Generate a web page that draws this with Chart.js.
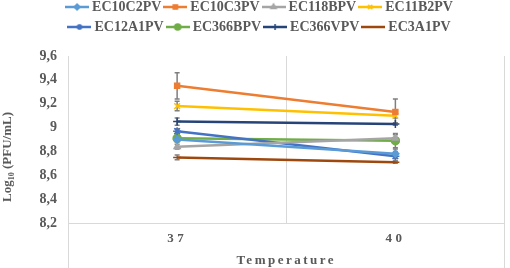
<!DOCTYPE html>
<html><head><meta charset="utf-8">
<script src="https://cdn.jsdelivr.net/npm/chart.js@4.4.1/dist/chart.umd.min.js"></script>
<style>html,body{margin:0;padding:0;background:#fff}#wrap{width:510px;height:268px}</style>
</head><body><div id="wrap"><canvas id="c" width="510" height="268"></canvas></div>
<script>
const categories = ['37', '40'];
const seriesNames = ['EC10C2PV','EC10C3PV','EC118BPV','EC11B2PV','EC12A1PV','EC366BPV','EC366VPV','EC3A1PV'];
const ec10c2pv = [8.90, 8.78];
const ec10c3pv = [9.35, 9.13];
const ec118bpv = [8.84, 8.91];
const ec11b2pv = [9.18, 9.10];
const ec12a1pv = [8.97, 8.76];
const ec366bpv = [8.91, 8.89];
const ec366vpv = [9.05, 9.03];
const ec3a1pv  = [8.75, 8.71];
const errEc10c2pv = [0.02, 0.04];
const errEc10c3pv = [0.11, 0.11];
const errEc118bpv = [0.02, 0.03];
const errEc11b2pv = [0.04, 0.02];
const errEc12a1pv = [0.02, 0.04];
const errEc366bpv = [0.02, 0.06];
const errEc366vpv = [0.03, 0.01];
const errEc3a1pv  = [0.02, 0.01];
const yTicks = [8.2, 8.4, 8.6, 8.8, 9.0, 9.2, 9.4, 9.6];

const values = [ec10c2pv, ec10c3pv, ec118bpv, ec11b2pv, ec12a1pv, ec366bpv, ec366vpv, ec3a1pv];
const errors = [errEc10c2pv, errEc10c3pv, errEc118bpv, errEc11b2pv, errEc12a1pv, errEc366bpv, errEc366vpv, errEc3a1pv];
const colors = ['#5B9BD5','#ED7D31','#A5A5A5','#FFC000','#4472C4','#70AD47','#264478','#9E480E'];
const styles = ['rectRot','rect','triangle','crossRot','star','circle','cross','line'];
const radii  = [3.5, 3.5, 3.5, 4, 4, 4, 4, 4];

const TXT = '#595959';
const GRID = '#D9D9D9';
const SERIF = '"Liberation Serif", "Times New Roman", serif';
const LEGEND_W = 420, LEGEND_CX = 261;

function legendIcon(i) {
  const cv = document.createElement('canvas');
  cv.width = 24; cv.height = 12;
  const g = cv.getContext('2d');
  g.strokeStyle = colors[i]; g.fillStyle = colors[i]; g.lineWidth = 2.5;
  g.beginPath(); g.moveTo(0, 6); g.lineTo(24, 6); g.stroke();
  g.lineWidth = 1.5;
  Chart.helpers.drawPoint(g, {pointStyle: styles[i], radius: 3, borderWidth: 1.5, rotation: 0}, 12, 6);
  return cv;
}

const datasets = seriesNames.map((n, i) => ({
  label: n,
  data: values[i],
  borderColor: colors[i],
  backgroundColor: colors[i],
  pointBackgroundColor: colors[i],
  pointBorderColor: colors[i],
  borderWidth: 2.5,
  pointStyle: styles[i],
  pointRadius: radii[i],
  pointBorderWidth: 1.5,
  tension: 0,
  fill: false
}));

const errorBars = {
  id: 'errorBars',
  beforeDatasetsDraw(chart) {
    const ctx = chart.ctx, ys = chart.scales.y;
    ctx.save();
    ctx.strokeStyle = '#7F7F7F';
    ctx.lineWidth = 1.5;
    chart.data.datasets.forEach((ds, di) => {
      const meta = chart.getDatasetMeta(di);
      meta.data.forEach((pt, pi) => {
        const v = ds.data[pi], e = errors[di][pi];
        const t = ys.getPixelForValue(v + e), b = ys.getPixelForValue(v - e);
        ctx.beginPath();
        ctx.moveTo(pt.x, t); ctx.lineTo(pt.x, b);
        ctx.moveTo(pt.x - 2.5, t); ctx.lineTo(pt.x + 2.5, t);
        ctx.moveTo(pt.x - 2.5, b); ctx.lineTo(pt.x + 2.5, b);
        ctx.stroke();
      });
    });
    ctx.restore();
  }
};

const decor = {
  id: 'decor',
  beforeDraw(chart) {
    const xs = chart.scales.x;
    if (xs && !xs._spaced) {
      const dl = xs.drawLabels, dt = xs.drawTitle;
      xs.drawLabels = function (a) { const c = this.ctx; c.letterSpacing = '3.5px'; dl.call(this, a); c.letterSpacing = '0px'; };
      xs.drawTitle = function (a) { const c = this.ctx; c.letterSpacing = '2.5px'; dt.call(this, a); c.letterSpacing = '0px'; };
      xs._spaced = true;
    }
  },
  afterDraw(chart) {
    const ctx = chart.ctx, a = chart.chartArea, xs = chart.scales.x;
    ctx.save();
    ctx.strokeStyle = GRID; ctx.lineWidth = 1;
    ctx.beginPath();
    ctx.moveTo(Math.round(a.left) + 0.5, a.bottom); ctx.lineTo(Math.round(a.left) + 0.5, xs.bottom);
    ctx.moveTo(Math.round(a.right) - 0.5, a.bottom); ctx.lineTo(Math.round(a.right) - 0.5, xs.bottom);
    ctx.stroke();
    ctx.translate(8, 157);
    ctx.rotate(-Math.PI / 2);
    ctx.fillStyle = TXT;
    ctx.textBaseline = 'middle';
    const big = 'bold 13px ' + SERIF, small = 'bold 8px ' + SERIF;
    const p1 = 'Log', p2 = '10', p3 = ' (PFU/mL)';
    ctx.font = big; const w1 = ctx.measureText(p1).width, w3 = ctx.measureText(p3).width;
    ctx.font = small; const w2 = ctx.measureText(p2).width;
    let x = -(w1 + w2 + w3) / 2;
    ctx.textAlign = 'left';
    ctx.font = big; ctx.fillText(p1, x, 0); x += w1;
    ctx.font = small; ctx.fillText(p2, x, 3.5); x += w2;
    ctx.font = big; ctx.fillText(p3, x, 0);
    ctx.restore();
  }
};

const tweaks = {
  id: 'tweaks',
  beforeLayout(chart) {
    const lg = chart.legend;
    if (lg && !lg._patched) {
      const of = lg.fit;
      lg.fit = function () {
        const mw = this.maxWidth;
        this.maxWidth = LEGEND_W;
        of.call(this);
        this.maxWidth = mw;
        this.height += 12;
      };
      lg._patched = true;
    }
  },
  afterLayout(chart) {
    const lg = chart.legend;
    if (lg) { lg.left = LEGEND_CX - LEGEND_W / 2; lg.right = LEGEND_CX + LEGEND_W / 2; lg.width = LEGEND_W; }
  }
};

new Chart(document.getElementById('c'), {
  type: 'line',
  data: { labels: categories, datasets },
  plugins: [errorBars, decor, tweaks],
  options: {
    responsive: false,
    animation: false,
    events: [],
    layout: { padding: { top: -6, left: 0, right: 1, bottom: 0 } },
    plugins: {
      tooltip: { enabled: false },
      legend: {
        display: true,
        position: 'top',
        labels: {
          usePointStyle: true,
          pointStyleWidth: 16,
          padding: 6,
          color: TXT,
          font: { family: SERIF, size: 14, weight: 'bold' },
          generateLabels(chart) {
            return chart.data.datasets.map((ds, i) => ({
              text: ds.label,
              pointStyle: legendIcon(i),
              fillStyle: colors[i],
              strokeStyle: colors[i],
              lineWidth: 0,
              hidden: false,
              fontColor: TXT,
              datasetIndex: i
            }));
          }
        }
      }
    },
    scales: {
      x: {
        type: 'category',
        offset: true,
        grid: { display: true, offset: true, color: GRID, lineWidth: 1, drawTicks: false },
        border: { display: true, color: GRID },
        ticks: { color: TXT, padding: 8, font: { family: SERIF, size: 13, weight: 'bold' } },
        title: {
          display: true,
          text: 'Temperature',
          color: TXT,
          padding: { top: 0, bottom: 0 },
          font: { family: SERIF, size: 13, weight: 'bold' }
        },
        afterFit(s) { s.height = 45; }
      },
      y: {
        min: 8.2,
        max: 9.6,
        grid: { display: false, drawTicks: false },
        border: { display: false },
        afterBuildTicks(s) { s.ticks = yTicks.map(v => ({ value: v })); },
        ticks: {
          color: TXT,
          padding: 11,
          font: { family: SERIF, size: 14, weight: 'bold' },
          callback: v => { const s = Number(v).toFixed(1); return (s.endsWith('.0') ? s.slice(0, -2) : s).replace('.', ','); }
        },
        afterFit(s) { s.width = 68; }
      }
    }
  }
});
</script></body></html>
